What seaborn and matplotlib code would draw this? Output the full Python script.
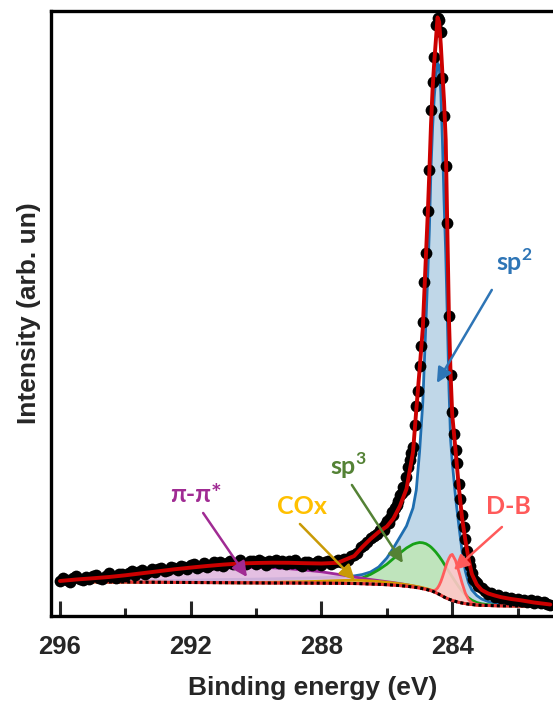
import numpy as np
import pandas as pd
import matplotlib.pyplot as plt
import seaborn as sns

sns.set_style('white')
plt.rcParams['font.family'] = ['Liberation Sans', 'DejaVu Sans']
plt.rcParams['font.weight'] = 'bold'
plt.rcParams['mathtext.fontset'] = 'custom'
plt.rcParams['mathtext.rm'] = 'Lato'
plt.rcParams['mathtext.bf'] = 'Lato:bold'

# fit grid (binding energy, eV) and fitted curves (arb. units)
grid_e = [296.0, 295.5, 295.0, 294.5, 294.0, 293.5, 293.0, 292.5, 292.0, 291.5,
          291.0, 290.5, 290.0, 289.5, 289.0, 288.5, 288.0, 287.5, 287.0,
          286.75, 286.5, 286.25, 286.0, 285.8, 285.6, 285.4, 285.2, 285.1, 285.0,
          284.9, 284.8, 284.75, 284.7, 284.65, 284.6, 284.55, 284.5, 284.45, 284.4,
          284.35, 284.3, 284.25, 284.2, 284.15, 284.1, 284.05, 284.0, 283.9, 283.8,
          283.7, 283.6, 283.5, 283.4, 283.25, 283.1, 282.9, 282.7, 282.5, 282.2, 281.9, 281.5, 281.0]

background = [3.45, 3.43, 3.42, 3.40, 3.40, 3.38, 3.37, 3.36, 3.35, 3.34,
              3.33, 3.32, 3.31, 3.30, 3.30, 3.29, 3.28, 3.27, 3.25,
              3.23, 3.20, 3.17, 3.13, 3.09, 3.04, 2.98, 2.90, 2.85, 2.80,
              2.73, 2.66, 2.62, 2.58, 2.53, 2.47, 2.40, 2.33, 2.25, 2.17,
              2.08, 1.99, 1.90, 1.82, 1.75, 1.68, 1.62, 1.56, 1.46, 1.37,
              1.30, 1.24, 1.19, 1.15, 1.10, 1.07, 1.05, 1.03, 1.02, 1.01, 1.00, 1.00, 1.00]

envelope = [3.50, 3.65, 3.77, 3.90, 4.07, 4.27, 4.47, 4.67, 4.84, 5.00,
            5.14, 5.25, 5.30, 5.33, 5.32, 5.28, 5.25, 5.32, 6.00,
            6.90, 7.70, 8.40, 8.95, 9.75, 11.00, 12.70, 16.40, 20.60, 24.60,
            28.80, 36.40, 40.10, 44.40, 49.10, 52.80, 55.40, 57.60, 59.85, 59.40,
            57.10, 54.20, 51.40, 47.60, 38.60, 29.60, 24.10, 20.10, 16.60, 12.90,
            9.80, 7.60, 5.70, 4.20, 3.15, 2.60, 2.25, 2.05, 1.88, 1.70, 1.57, 1.35, 1.15]

# component heights above background
pi_pi = [0.03, 0.18, 0.29, 0.41, 0.55, 0.74, 0.92, 1.10, 1.25, 1.38,
         1.47, 1.55, 1.55, 1.52, 1.43, 1.30, 1.14, 0.90, 0.65,
         0.55, 0.45, 0.37, 0.30, 0.25, 0.20, 0.15, 0.11, 0.09, 0.07,
         0.06, 0.05, 0.05, 0.04, 0.04, 0.03, 0.03, 0.03, 0.02, 0.02,
         0.02, 0.02, 0.01, 0.01, 0.01, 0.01, 0.01, 0.01, 0.00, 0.00,
         0, 0, 0, 0, 0, 0, 0, 0, 0, 0, 0, 0, 0]

cox = [0, 0, 0, 0, 0, 0, 0, 0, 0, 0.01,
       0.02, 0.03, 0.05, 0.07, 0.10, 0.14, 0.20, 0.27, 0.33,
       0.33, 0.31, 0.28, 0.24, 0.21, 0.18, 0.15, 0.12, 0.11, 0.10,
       0.09, 0.08, 0.08, 0.07, 0.07, 0.06, 0.06, 0.06, 0.05, 0.05,
       0.05, 0.05, 0.04, 0.04, 0.04, 0.04, 0.03, 0.03, 0.03, 0.02,
       0.02, 0.01, 0.01, 0.01, 0, 0, 0, 0, 0, 0, 0, 0, 0]

sp3 = [0, 0, 0, 0, 0, 0, 0, 0, 0, 0,
       0, 0, 0.01, 0.02, 0.03, 0.05, 0.08, 0.15, 0.35,
       0.58, 0.96, 1.45, 2.05, 2.65, 3.25, 3.82, 4.28, 4.43, 4.55,
       4.59, 4.56, 4.50, 4.44, 4.36, 4.26, 4.16, 4.05, 3.92, 3.79,
       3.64, 3.49, 3.31, 3.13, 2.94, 2.75, 2.55, 2.35, 1.95, 1.55,
       1.20, 0.88, 0.62, 0.43, 0.25, 0.15, 0.08, 0.04, 0.02, 0.01, 0, 0, 0]

sp2 = [0.02, 0.04, 0.06, 0.09, 0.12, 0.15, 0.18, 0.21, 0.24, 0.28,
       0.32, 0.35, 0.38, 0.42, 0.46, 0.50, 0.55, 0.62, 0.76,
       0.92, 1.20, 1.73, 2.67, 3.71, 4.86, 6.02, 7.90, 9.75, 13.60,
       18.67, 27.14, 31.38, 36.02, 42.27, 46.43, 49.50, 51.57, 53.05, 52.83,
       50.32, 45.50, 39.50, 34.50, 28.00, 21.00, 15.98, 13.84, 10.44, 7.73,
       5.20, 3.26, 2.11, 1.45, 0.95, 0.63, 0.40, 0.27, 0.18, 0.11, 0.07, 0.04, 0.02]

d_b = [0, 0, 0, 0, 0, 0, 0, 0, 0, 0,
       0, 0, 0, 0, 0, 0, 0, 0, 0,
       0, 0, 0, 0, 0, 0, 0, 0, 0, 0,
       0, 0, 0, 0, 0.03, 0.07, 0.15, 0.30, 0.55, 0.90,
       1.35, 1.90, 2.50, 3.10, 3.65, 4.10, 4.45, 4.60, 4.10, 3.10,
       2.00, 1.05, 0.45, 0.17, 0.04, 0.01, 0, 0, 0, 0, 0, 0, 0]

# measured spectrum: 0.1 eV, 0.05 eV and 0.1 eV steps
e_a = np.arange(2960, 2861, -1) / 10
i_a = [3.45, 3.75, 3.60, 3.40, 3.75, 3.95, 3.65, 3.60, 3.90,
       3.65, 3.95, 4.10, 3.80, 3.65, 4.00, 4.25, 4.00, 3.80, 4.20,
       4.20, 3.95, 4.30, 4.45, 4.10, 4.35, 4.55, 4.20, 4.40, 4.65,
       4.35, 4.70, 4.80, 4.45, 4.60, 4.90, 4.75, 4.55, 4.95, 4.85,
       4.70, 5.05, 5.15, 4.80, 5.00, 5.30, 4.90, 5.05, 5.35, 5.10,
       5.35, 5.00, 5.25, 5.50, 5.15, 5.30, 5.60, 5.20, 5.15, 5.50,
       5.45, 5.20, 5.60, 5.35, 5.10, 5.50, 5.40, 5.60, 5.25, 5.45,
       5.15, 5.45, 5.30, 5.55, 5.20, 4.95, 5.40, 5.35, 5.10, 5.30,
       5.45, 5.10, 5.35, 5.50, 5.20, 5.40, 5.55, 5.35, 5.70, 5.60,
       5.95, 6.10, 6.30, 6.85, 7.10, 7.35, 7.80, 8.00, 8.20, 8.55]
e_b = np.arange(28615, 28319, -5) / 100
i_b = [8.75, 8.60, 9.05, 9.50, 9.30, 9.75, 10.35, 10.10, 10.75, 11.10,
       11.50, 12.10, 12.30, 12.90, 12.60, 13.90, 14.90, 15.60, 16.30, 16.90,
       19.10, 21.00, 22.50, 25.00, 27.00, 29.40, 33.40, 36.30, 40.50, 44.60,
       50.60, 53.40, 55.90, 59.10, 59.80, 59.60, 58.40, 53.80, 50.00, 45.00,
       39.30, 30.00, 24.10, 20.40, 18.20, 16.60, 15.30, 13.20, 11.70, 10.10,
       8.90, 7.70, 6.50, 5.60, 4.95, 4.30, 3.70, 3.45, 3.30, 2.95]
e_c = np.arange(2831, 2809, -1) / 10
i_c = [2.75, 2.45, 2.20, 2.30, 1.95, 2.10, 1.80, 1.95, 1.70, 1.85, 1.60,
       1.75, 1.50, 1.65, 1.45, 1.60, 1.35, 1.50, 1.30, 1.45, 1.20, 1.15]

spec = pd.DataFrame({'E': np.concatenate([e_a, e_b, e_c]),
                     'I': np.concatenate([i_a, i_b, i_c])})
fit = pd.DataFrame({'E': grid_e, 'bg': background, 'env': envelope,
                    'pi': pi_pi, 'cox': cox, 'sp3': sp3, 'sp2': sp2, 'db': d_b})

fig = plt.figure(figsize=(5.53, 7.02), dpi=100)
ax = fig.add_axes([0.0931, 0.1225, 0.944, 0.862])

# components: (column, fill colour, line colour)
comps = [('sp2', '#b9d3e6', '#1f6eb0'),
         ('sp3', '#bfe6b8', '#17a117'),
         ('pi', '#e2b8df', '#a0289c'),
         ('cox', '#f3dca8', '#d39b00'),
         ('db', '#ffc8c8', '#ff5c5c')]
for z, (col, fc, lc) in enumerate(comps):
    top = fit['bg'] + fit[col]
    ax.fill_between(fit['E'], fit['bg'], top, color=fc, alpha=0.9, lw=0, zorder=1 + z * 0.1)
    sns.lineplot(x=fit['E'], y=top, color=lc, lw=2, ax=ax, estimator=None, sort=False,
                 zorder=1.05 + z * 0.1)

# background: red with black dots
sns.lineplot(x=fit['E'], y=fit['bg'], color='#e53030', lw=2.2, ax=ax, estimator=None,
             sort=False, zorder=2)
ax.plot(fit['E'], fit['bg'], color='black', lw=2.2, ls=(0, (1, 1)), zorder=2.1)

sns.scatterplot(data=spec, x='E', y='I', color='black', s=72, linewidth=0, ax=ax, zorder=3)
sns.lineplot(x=fit['E'], y=fit['env'], color='#cc0000', lw=2.8, ax=ax, estimator=None,
             sort=False, zorder=4)

# labels with arrows: text (E, I), arrow tail, arrow tip, text colour, arrow colour
labels = [(r'sp$^{\mathbf{2}}$', (282.11, 35.4), (282.79, 32.6), (284.47, 23.3), '#2e75b6', '#2e75b6'),
          (r'sp$^{\mathbf{3}}$', (287.19, 15.0), (287.07, 13.1), (285.51, 5.3), '#548235', '#548235'),
          ('π-π*', (291.84, 12.1), (291.62, 10.3), (290.28, 3.9), '#a02b93', '#a02b93'),
          ('COx', (288.60, 10.9), (288.66, 9.2), (286.98, 3.6), '#ffc000', '#c99a06'),
          ('D-B', (282.29, 10.9), (282.48, 8.9), (283.95, 4.6), '#ff5a5a', '#ff5a5a')]
for txt, pos, tail, tip, tc, ac in labels:
    ax.text(pos[0], pos[1], txt, color=tc, fontsize=18, fontweight='bold',
            family=['Lato', 'DejaVu Sans'], ha='center', va='center', zorder=6)
    ax.annotate('', xy=tip, xytext=tail, zorder=6,
                arrowprops=dict(arrowstyle='-|>,head_length=0.6,head_width=0.3',
                                color=ac, lw=1.8, mutation_scale=15, shrinkA=0, shrinkB=0))

ax.set_xlim(296.26, 280.29)
ax.set_ylim(0, 60.5)
ax.set_yticks([])
ax.set_xticks([296, 292, 288, 284])
ax.set_xticks([294, 290, 286, 282], minor=True)
ax.tick_params(axis='x', which='major', direction='in', length=10.8, width=2.2, pad=14,
               labelsize=18.5, bottom=True, top=False)
ax.tick_params(axis='x', which='minor', direction='in', length=5.8, width=2.2,
               bottom=True, top=False)
for s in ax.spines.values():
    s.set_linewidth(2.4)
    s.set_color('black')
ax.spines['right'].set_visible(False)

ax.set_xlabel('Binding energy (eV)', fontsize=19, fontweight='bold')
ax.set_ylabel('Intensity (arb. un)', fontsize=19, fontweight='bold')
ax.xaxis.set_label_coords(0.5, -0.099)
ax.yaxis.set_label_coords(-0.020, 0.5)

fig.savefig('out.png', dpi=100)
